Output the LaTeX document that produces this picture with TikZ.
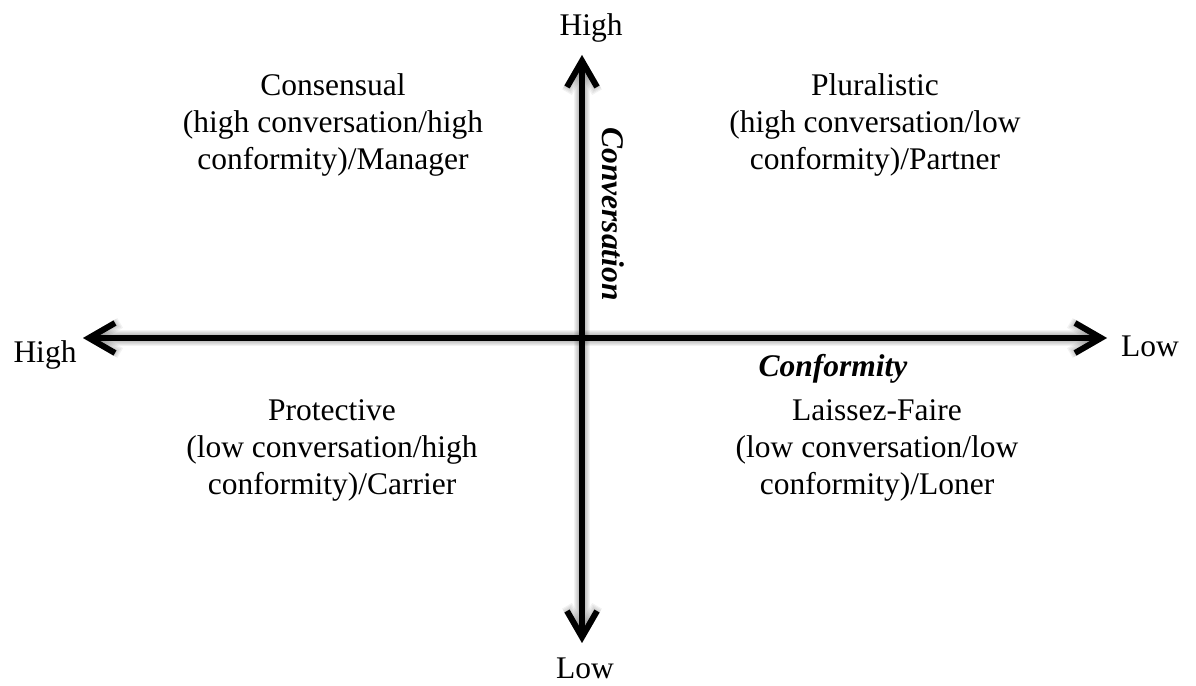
\documentclass[tikz,border=0pt]{standalone}
\usepackage{fontspec}
\setmainfont{Liberation Serif}
\usetikzlibrary{arrows.meta}
\begin{document}
\begin{tikzpicture}[x=1pt,y=1pt,
  axis/.style={line width=6pt, black, {Straight Barb[length=26pt,width=30pt]}-{Straight Barb[length=26pt,width=30pt]}},
  axshadow/.style={line width=#1, black, opacity=0.05, {Straight Barb[length=26pt,width=30pt,line width=#1*0.7]}-{Straight Barb[length=26pt,width=30pt,line width=#1*0.7]}},
  lbl/.style={font=\fontsize{31.5pt}{37pt}\selectfont, inner sep=0pt},
  quad/.style={lbl, align=center, anchor=center},
  axname/.style={font=\fontsize{31.5pt}{37pt}\selectfont\bfseries\itshape, inner sep=0pt, anchor=base}]
\useasboundingbox (0,0) rectangle (1196,685);
% axis end points
\coordinate (L) at (83,347);
\coordinate (R) at (1107,347);
\coordinate (T) at (582,630);
\coordinate (B) at (582,42);
% soft shadow
\begin{scope}[shift={(3,-4)}]
  \foreach \w in {8,10,12,14,16}{
    \draw[axshadow=\w pt] (L) -- (R);
    \draw[axshadow=\w pt] (B) -- (T);
  }
\end{scope}
% axes
\draw[axis] (L) -- (R);
\draw[axis] (B) -- (T);
% axis end labels
\node[lbl, anchor=base] (hightop) at (591,649) {High};
\node[lbl, anchor=base] (lowbot) at (585,6) {Low};
\node[lbl, anchor=base] (highleft) at (45,322) {High};
\node[lbl, anchor=base] (lowright) at (1150,328) {Low};
% axis names
\node[axname] (conf) at (833,308) {Conformity};
\node[axname, rotate=-90] (conv) at (602,471) {Conversation};
% quadrants
\node[quad] (consensual) at (333,560) {Consensual\\(high conversation/high\\conformity)/Manager};
\node[quad] (pluralistic) at (875,560) {Pluralistic\\(high conversation/low\\conformity)/Partner};
\node[quad] (protective) at (332,235) {Protective\\(low conversation/high\\conformity)/Carrier};
\node[quad] (laissez) at (877,235) {Laissez-Faire\\(low conversation/low\\conformity)/Loner};
\end{tikzpicture}
\end{document}
